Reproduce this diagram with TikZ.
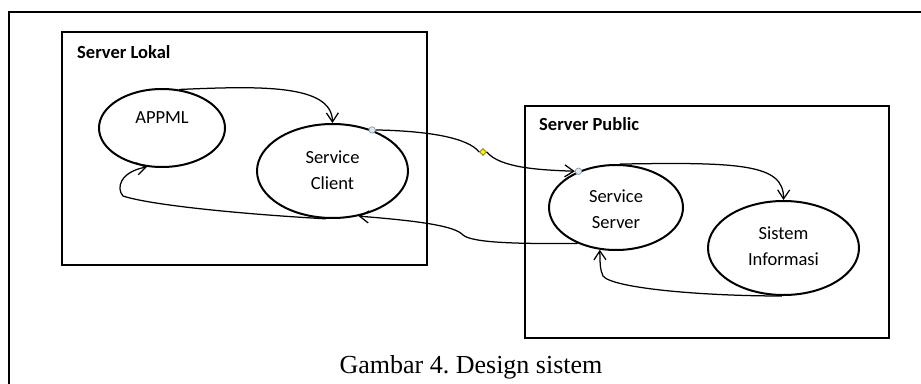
\documentclass[tikz,border=0pt]{standalone}
\usepackage{fontspec}
\setmainfont{Carlito}
\newfontfamily\capfont{Liberation Serif}
\usetikzlibrary{shapes.geometric,arrows.meta}
\definecolor{portfill}{HTML}{DCE8EF}
\definecolor{portdraw}{HTML}{8A9BA6}
\frenchspacing
\begin{document}
\begin{tikzpicture}[x=1pt,y=-1pt,
  frame/.style={draw=black,line width=1.9pt},
  boxnode/.style={frame,rectangle,anchor=north west,inner sep=0pt,outer sep=0pt},
  usecase/.style={draw=black,ellipse,line width=2pt,inner sep=0pt,align=center,
    font=\fontsize{18.5}{26}\selectfont},
  txt/.style={font=\fontsize{18.5}{26}\selectfont,inner sep=0pt},
  boxlabel/.style={font=\bfseries\fontsize{18.5}{22}\selectfont,anchor=base west,inner sep=0pt},
  conn/.style={draw=black,line width=1.25pt,-{Straight Barb[length=9pt,width=12pt,line width=1.25pt]}},
  port/.style={circle,draw=portdraw,fill=portfill,line width=0.7pt,minimum size=6.5pt,inner sep=0pt},
  joint/.style={diamond,draw=olive!80!black,fill=yellow,line width=0.6pt,minimum size=7pt,inner sep=0pt}
]
\useasboundingbox (0,0) rectangle (921,383);

% outer frame (open at right and bottom)
\draw[frame] (9,384) -- (9,12) -- (922,12);

% server boxes
\node[boxnode,minimum width=365pt,minimum height=233pt] (lokal) at (62,32) {};
\node[boxlabel] (lokal-t) at (77,58) {Server Lokal};
\node[boxnode,minimum width=364pt,minimum height=232pt] (public) at (525,106) {};
\node[boxlabel] (public-t) at (539,130) {Server Public};

% use cases
\node[usecase,minimum width=126pt,minimum height=78pt] (appml) at (162,128) {};
\node[txt] (appml-t) at (162,118) {APPML};
\node[usecase,minimum width=151pt,minimum height=94pt] (sc) at (332.5,171) {};
\node[txt,align=center] (sc-t) at (332.5,170) {Service\\Client};
\node[usecase,minimum width=134pt,minimum height=85pt] (ss) at (616,207.5) {};
\node[txt,align=center] (ss-t) at (616,209.5) {Service\\Server};
\node[usecase,minimum width=151pt,minimum height=94pt] (si) at (783.5,248) {};
\node[txt,align=center] (si-t) at (783.5,246.5) {Sistem\\Informasi};

% APPML -> Service Client
\draw[conn] (appml.66) .. controls (260,86) and (332,84) .. (sc.90);

% Service Client -> Service Server (via joint)
\node[port] (p1) at (sc.46) {};
\node[port] (p2) at (ss.136) {};
\node[joint] (dm) at (483,152) {};
\draw[line width=1.25pt] (p1.east) .. controls (430,131) and (468,138) .. (dm.west);
\draw[conn] (dm.east) .. controls (500,168) and (540,170) .. (p2.west);

% Service Server -> Service Client
\draw[conn] (ss.223) .. controls (520,244) and (472,243) .. (463,235)
  .. controls (455,226) and (420,221) .. (sc.-60);

% Service Client -> APPML
\draw[conn] (sc.-98) .. controls (240,214) and (150,205) .. (123,196)
  .. controls (116,188) and (120,172) .. (appml.-111);

% Service Server -> Sistem Informasi
\draw[conn] (ss.85) .. controls (740,162) and (784,164) .. (si.90);

% Sistem Informasi -> Service Server
\draw[conn] (si.-92) .. controls (700,296) and (612,288) .. (603,276)
  .. controls (600,270) and (600,262) .. (ss.-111);

% caption
\node[font=\capfont\fontsize{26}{30}\selectfont,anchor=base,inner sep=0pt] (cap) at (471,373) {Gambar 4. Design sistem};
\end{tikzpicture}
\end{document}
